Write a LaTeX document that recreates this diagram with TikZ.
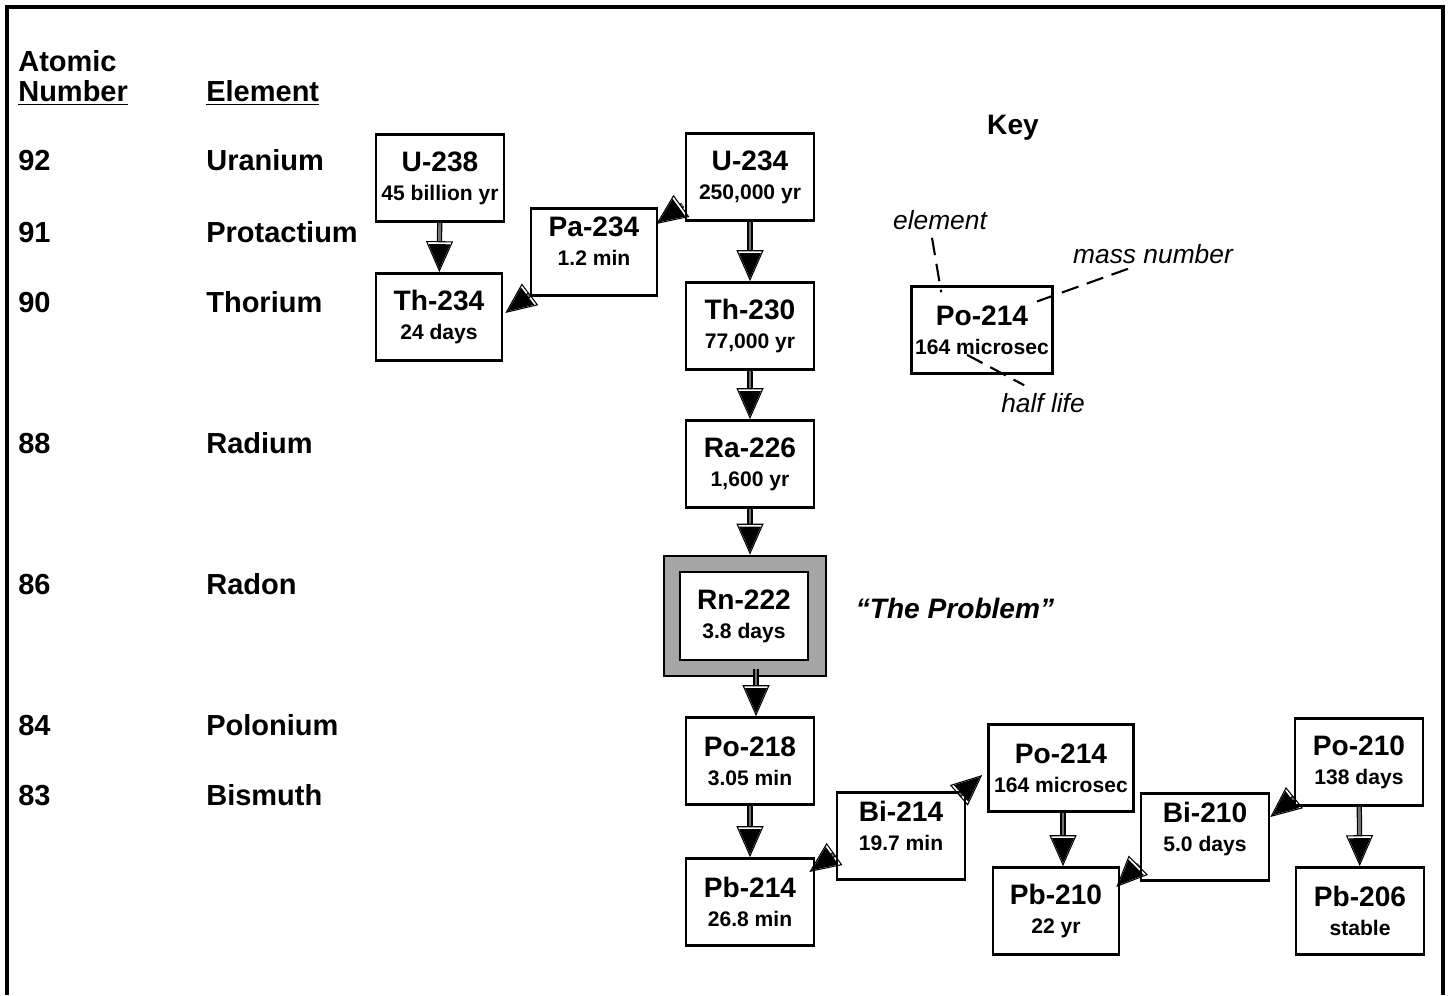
\documentclass[tikz,border=0pt]{standalone}
\usepackage{fontspec}
\setmainfont{Liberation Sans}
\usetikzlibrary{arrows.meta,calc,positioning}
\tikzset{
  head/.style={font=\fontsize{16.5}{19}\selectfont\bfseries, inner sep=0pt,
    text height=11.8pt, text depth=0pt, anchor=west},
  iso/.style={rectangle, draw=black, line width=1.5pt, fill=white, align=center,
    minimum width=2.56cm, minimum height=1.74cm, inner sep=2pt,
    font=\fontsize{12}{16.5}\selectfont\bfseries},
  raised/.style={text depth=12pt},
  problem/.style={rectangle, draw=black, line width=1.5pt, fill=black!35,
    minimum width=3.24cm, minimum height=2.4cm},
  note/.style={font=\fontsize{15}{18}\selectfont\itshape, inner sep=1pt},
  keyline/.style={line width=1.2pt, dash pattern=on 10pt off 5pt},
  decay/.style={draw=black, line width=0.7pt, double=black!55, double distance=1.6pt,
    -{Triangle[length=5mm,width=4.3mm,fill=black,sep=-5.6mm]
      Triangle[open,length=6.2mm,width=5.4mm,line width=0.6pt]}},
}
\newcommand{\nuc}[2]{{\fontsize{16}{16.5}\selectfont #1}\\#2}

\begin{document}
\begin{tikzpicture}[x=0.02cm, y=-0.02cm]
  \useasboundingbox (0,0) rectangle (1448,995);
  \draw[line width=2.8pt] (7,995) -- (7,7) -- (1443,7) -- (1443,995);

  % headings and rows
  \node[head] (hatomic) at (18,61) {Atomic};
  \node[head] (hnumber) at (18,91) {\underline{Number}};
  \node[head] (helement) at (206,91) {\underline{Element}};
  \foreach \z/\el/\y in {92/Uranium/160, 91/Protactium/232, 90/Thorium/302,
      88/Radium/443, 86/Radon/584, 84/Polonium/725, 83/Bismuth/795} {
    \node[head] (z\z) at (18,\y) {\z};
    \node[head] (el\z) at (206,\y) {\el};
  }

  % uranium series
  \node[iso] (u238) at (440,178) {\nuc{U-238}{45 billion yr}};
  \node[iso, minimum width=2.52cm] (th234) at (439,317) {\nuc{Th-234}{24 days}};
  \node[iso, raised, minimum width=2.52cm] (pa234) at (594,252) {\nuc{Pa-234}{1.2 min}};
  \node[iso] (u234) at (750,177) {\nuc{U-234}{250,000 yr}};
  \node[iso] (th230) at (750,326) {\nuc{Th-230}{77,000 yr}};
  \node[iso] (ra226) at (750,464) {\nuc{Ra-226}{1,600 yr}};
  \node[problem] (rn222o) at (745,616) {};
  \node[iso, minimum height=1.76cm] (rn222) at (744,616) {\nuc{Rn-222}{3.8 days}};
  \node[iso] (po218) at (750,761) {\nuc{Po-218}{3.05 min}};
  \node[iso] (pb214) at (750,902) {\nuc{Pb-214}{26.8 min}};
  \node[iso, raised] (bi214) at (901,836) {\nuc{Bi-214}{19.7 min}};
  \node[iso, minimum width=2.9cm] (po214) at (1061,768) {\nuc{Po-214}{164 microsec}};
  \node[iso, minimum width=2.52cm] (pb210) at (1056,911) {\nuc{Pb-210}{22 yr}};
  \node[iso, raised] (bi210) at (1205,837) {\nuc{Bi-210}{5.0 days}};
  \node[iso] (po210) at (1359,762) {\nuc{Po-210}{138 days}};
  \node[iso] (pb206) at (1360,911) {\nuc{Pb-206}{stable}};
  \node[font=\fontsize{16}{19}\selectfont\bfseries\itshape] (theprob) at (955,608) {``The Problem''};

  \draw[decay] (u238) -- (th234);
  \draw[decay] ($(u234.west)+(-2,28)$) -- ($(pa234.east)+(-2,-28)$);
  \draw[decay] ($(pa234.south west)+(-3,0)$) -- ($(th234.east)+(2,-4)$);
  \draw[decay] (u234) -- (th230);
  \draw[decay] (th230) -- (ra226);
  \draw[decay] (ra226.south) -- (ra226.south |- rn222o.north);
  \draw[decay] ($(rn222.south)+(12,8)$) -- ($(po218.north)+(6,0)$);
  \draw[decay] (po218.south) -- (pb214.north);
  \draw[decay] ($(bi214.west)+(-4,20)$) -- ($(pb214.east)+(-6,-30)$);
  \draw[decay] ($(bi214.north east)+(-5,2)$) -- ($(po214.west)+(-5,7)$);
  \draw[decay] ($(po214.south)+(2,0)$) -- ($(po214.south |- pb210.north)+(2,0)$);
  \draw[decay] ($(bi210.south west)+(-1,-17)$) -- ($(pb210.east)+(-4,-24)$);
  \draw[decay] ($(po210.south west)+(-2,-7)$) -- ($(bi210.east)+(0,-20)$);
  \draw[decay] (po210) -- (pb206);

  % key
  \node[font=\fontsize{16}{19}\selectfont\bfseries] (key) at (1013,128) {Key};
  \node[iso, minimum width=2.82cm] (keybox) at (982,330) {\nuc{Po-214}{164 microsec}};
  \node[note] (nelement) at (940,220) {element};
  \node[note] (nmass) at (1153,254) {mass number};
  \node[note] (nhalf) at (1043,403) {half life};
  \draw[keyline] ($(nelement.south)+(-8,6)$) -- ($(keybox.north west)+(31,7)$);
  \draw[keyline] ($(nmass.south)+(-25,3)$) -- ($(keybox.east)+(-21,-27)$);
  \draw[keyline] ($(keybox.south)+(-15,-20)$) -- ($(nhalf.north west)+(25,-6)$);
\end{tikzpicture}
\end{document}
